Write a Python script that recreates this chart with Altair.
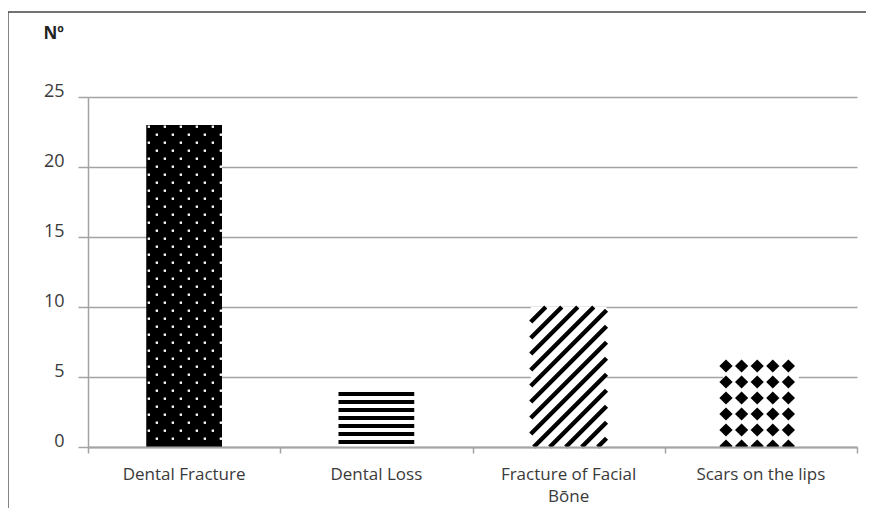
import altair as alt
import pandas as pd

# ---- data ----
categories = ["Dental Fracture", "Dental Loss", "Fracture of Facial\nBōne", "Scars on the lips"]
values = [23, 4, 10, 6]
patterns = ["dots", "hlines", "diagonal", "diamonds"]
y_ticks = [0, 5, 10, 15, 20, 25]

# ---- layout / style constants ----
W, H = 769, 350
XMAX, YMAX = 4, 25
PX = XMAX / W      # x data units per pixel
PY = YMAX / H      # y data units per pixel
HALF = 0.197       # half bar width, in band units
FONT = "Open Sans"
GRID = "#a3a3a3"
TEXT = "#3a3a3a"

df = pd.DataFrame({"label": categories, "value": values, "pattern": patterns})
df["idx"] = list(range(len(categories)))

xscale = alt.Scale(domain=[0, XMAX], nice=False, zero=False)
yscale = alt.Scale(domain=[0, YMAX], nice=False)

xaxis = alt.Axis(values=[0, 1, 2, 3, 4], labels=False, title="", grid=False,
                 domainColor=GRID, domainWidth=2, tickColor=GRID, tickWidth=1.5,
                 tickSize=6, zindex=1)
yaxis = alt.Axis(values=y_ticks, grid=True, gridColor=GRID, gridWidth=1.5,
                 domainColor=GRID, domainWidth=1.5, tickColor=GRID, tickWidth=1.5,
                 tickSize=10, labelFont=FONT, labelFontSize=18, labelColor=TEXT,
                 labelPadding=14, labelBaseline="alphabetic", labelOffset=-1,
                 title="Nº", titleAngle=0, titleAlign="left", titleBaseline="alphabetic",
                 titleX=-45, titleY=-59, titleFont=FONT, titleFontSize=17,
                 titleFontWeight="bold", titleColor="#222222")


def X(f):
    return alt.X(f, type="quantitative", scale=xscale, axis=xaxis)


def Y(f):
    return alt.Y(f, type="quantitative", scale=yscale, axis=yaxis)


base = alt.Chart(df).transform_calculate(
    center="datum.idx + 0.5"
).transform_calculate(
    x0=f"datum.center - {HALF}"
).transform_calculate(
    x1=f"datum.center + {HALF}"
)

bars = base.mark_rect().encode(
    x=X("x0"), x2="x1:Q",
    y=Y("value"), y2=alt.datum(0),
    fill=alt.Fill("pattern:N", scale=alt.Scale(domain=patterns,
                  range=["black", "white", "white", "white"]), legend=None),
)

# white dots on the black bar
dots = base.transform_filter("datum.pattern == 'dots'").transform_calculate(
    row=f"sequence(1, floor(datum.value / {8 * PY}) + 1)"
).transform_flatten(["row"]).transform_calculate(
    col="sequence(0, 5)"
).transform_flatten(["col"]).transform_calculate(
    px=f"datum.x0 + (2.6 + 8 * (datum.row % 2) + 16 * datum.col) * {PX}"
).transform_calculate(
    py=f"(0.3 + 8 * datum.row) * {PY}"
).transform_filter("datum.px < datum.x1 && datum.py < datum.value").mark_point(
    shape="square", filled=True, size=5.5, color="white", opacity=1
).encode(x=X("px"), y=Y("py"))

# horizontal lines
hl = base.transform_filter("datum.pattern == 'hlines'").transform_calculate(
    k=f"sequence(0, floor((datum.value / {PY} - 5) / 8) + 1)"
).transform_flatten(["k"]).transform_calculate(
    ly=f"(5 + 8 * datum.k) * {PY}"
).mark_rule(color="black", strokeWidth=4, strokeCap="butt").encode(
    x=X("x0"), x2="x1:Q", y=Y("ly")
)

# diagonal stripes
dg = base.transform_filter("datum.pattern == 'diagonal'").transform_calculate(
    k="sequence(-10, 6)"
).transform_flatten(["k"]).transform_calculate(
    u0="3 + 16 * datum.k"
).transform_calculate(
    w=f"(datum.x1 - datum.x0) / {PX}"
).transform_calculate(
    h=f"datum.value / {PY}"
).transform_calculate(
    ua="max(0, datum.u0)"
).transform_calculate(
    ub="min(datum.w, datum.u0 + datum.h)"
).transform_filter("datum.ua < datum.ub").transform_calculate(
    xa=f"datum.x0 + datum.ua * {PX}"
).transform_calculate(
    ya=f"(datum.ua - datum.u0) * {PY}"
).transform_calculate(
    xb=f"datum.x0 + datum.ub * {PX}"
).transform_calculate(
    yb=f"(datum.ub - datum.u0) * {PY}"
).mark_rule(color="black", strokeWidth=4.5, strokeCap="butt").encode(
    x=X("xa"), y=Y("ya"), x2="xb:Q", y2="yb:Q"
)

# diamonds
dm = base.transform_filter("datum.pattern == 'diamonds'").transform_calculate(
    r="sequence(0, 6)"
).transform_flatten(["r"]).transform_calculate(
    c="sequence(0, 5)"
).transform_flatten(["c"]).transform_calculate(
    dx=f"datum.x0 + (3 + 15.6 * datum.c) * {PX}"
).transform_calculate(
    dy=f"(1 + 16 * datum.r) * {PY}"
).transform_filter("datum.dx < datum.x1 && datum.dy < datum.value").mark_point(
    shape="diamond", filled=True, size=175, color="black", opacity=1, clip=True
).encode(x=X("dx"), y=Y("dy"))

labels = base.mark_text(font=FONT, fontSize=17, color=TEXT, baseline="alphabetic",
                        lineBreak="\n", lineHeight=22).encode(
    x=X("center"), y=alt.value(383), text="label:N"
)

border = alt.Chart(pd.DataFrame({"b": [0]})).mark_rect(
    fill="transparent", stroke="#444444", strokeWidth=1.3
).encode(x=alt.value(-80), x2=alt.value(W + 100), y=alt.value(-85), y2=alt.value(H + 100))

chart = alt.layer(bars, dots, hl, dg, dm, labels, border).properties(
    width=W, height=H,
    autosize=alt.AutoSizeParams(type="none"),
    padding={"left": 80, "top": 89, "right": 9, "bottom": 61},
).configure_view(stroke="transparent")

chart.save("out.html", embed_options={"renderer": "svg", "actions": False})
